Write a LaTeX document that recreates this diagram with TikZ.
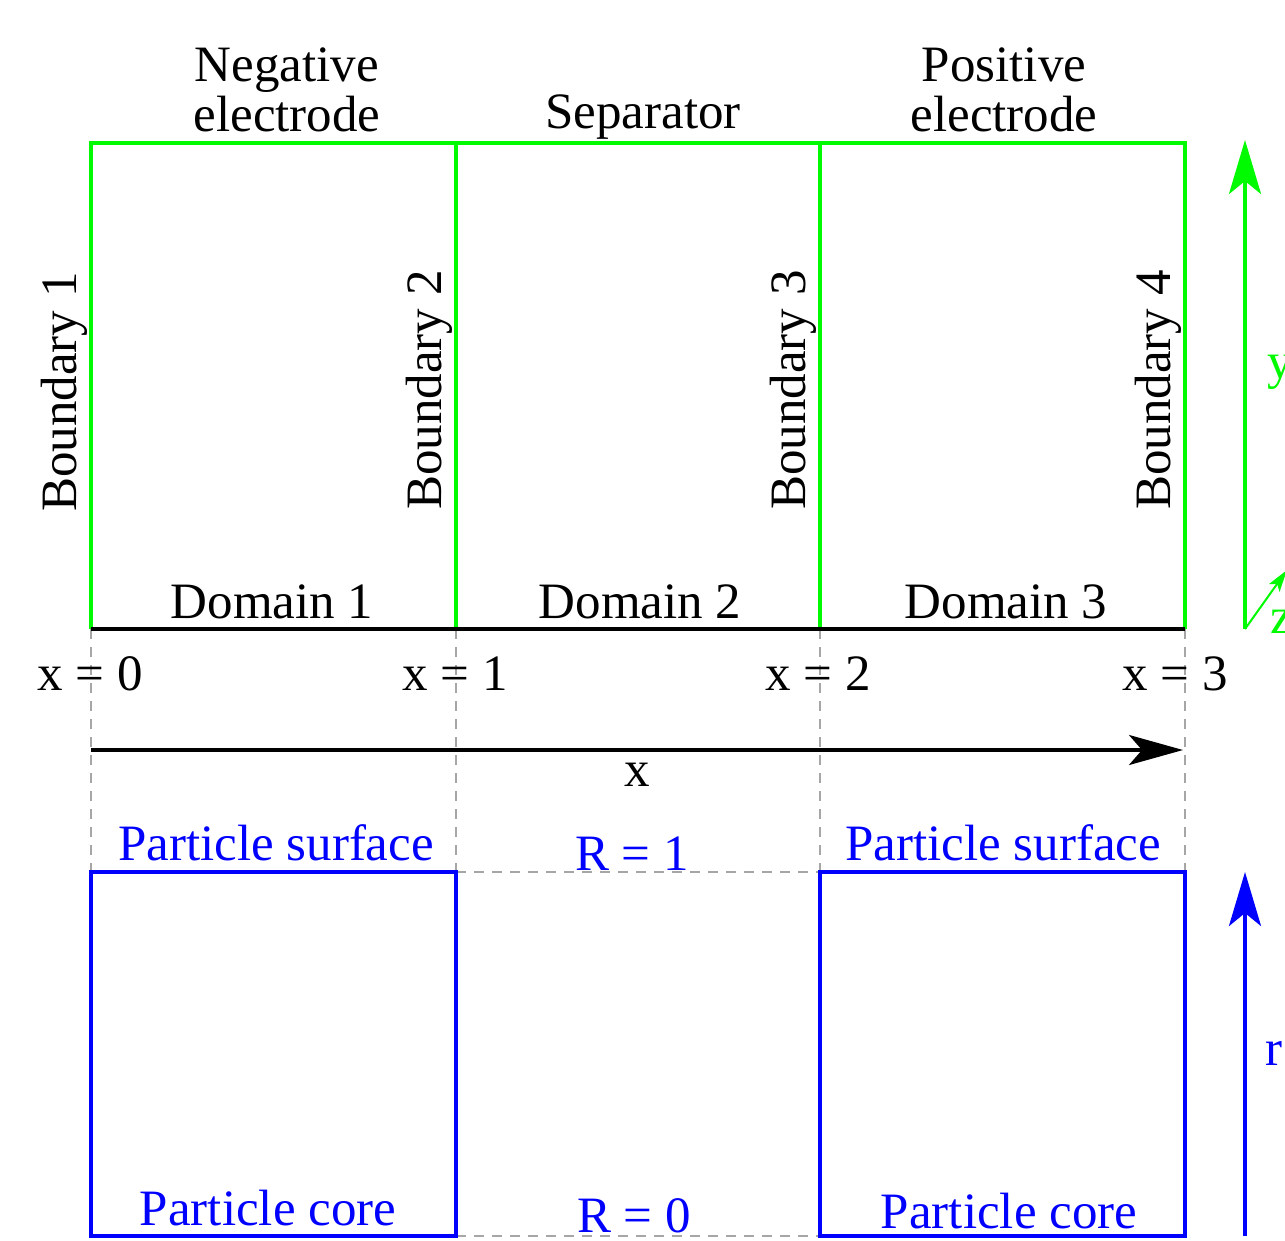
\documentclass[tikz,border=0pt]{standalone}
\usepackage{fontspec}
\setmainfont{Liberation Serif}
\usetikzlibrary{arrows.meta}
\definecolor{cellgreen}{RGB}{0,250,0}
\definecolor{partblue}{RGB}{0,0,255}
\tikzset{
  lbl/.style={font=\fontsize{51}{50}\selectfont, inner sep=1pt},
  cell/.style={cellgreen, line width=3.5pt},
  particle/.style={partblue, line width=3.5pt},
  guide/.style={black!35, line width=1.5pt, dash pattern=on 10pt off 8pt},
  axistip/.style={-{Stealth[length=54pt,width=32pt,inset=13pt]}},
}
\begin{document}
\begin{tikzpicture}[x=1pt,y=-1pt]
	\useasboundingbox (0,0) rectangle (1285,1240);

	% interfaces x = 0..3
	\coordinate (t0) at (91,143);  \coordinate (t1) at (456,143);
	\coordinate (t2) at (820,143); \coordinate (t3) at (1185,143);
	\coordinate (b0) at (91,629);  \coordinate (b1) at (456,629);
	\coordinate (b2) at (820,629); \coordinate (b3) at (1185,629);
	\coordinate (p0) at (91,872);  \coordinate (p1) at (456,872);
	\coordinate (p2) at (820,872); \coordinate (p3) at (1185,872);
	\coordinate (q0) at (91,1236);  \coordinate (q1) at (456,1236);
	\coordinate (q2) at (820,1236); \coordinate (q3) at (1185,1236);

	\draw[guide] (b0) -- (p0);
	\draw[guide] (b1) -- (p1);
	\draw[guide] (b2) -- (p2);
	\draw[guide] (b3) -- (p3);
	\draw[guide] (p1) -- (p2);
	\draw[guide] (q1) -- (q2);

	\draw[cell] (b0) -- (t0) -- (t3) -- (b3);
	\draw[cell] (t1) -- (b1);
	\draw[cell] (t2) -- (b2);
	\draw[line width=3.5pt] (b0) -- (b3);

	\draw[particle] (p0) rectangle (q1);
	\draw[particle] (p2) rectangle (q3);

	\node[lbl, align=center] (neg) at (287,90) {Negative\\electrode};
	\node[lbl] (sep) at (643,117) {Separator};
	\node[lbl, align=center] (pos) at (1004,90) {Positive\\electrode};

	\node[lbl, rotate=90, anchor=south] (bd1) at (89,392) {Boundary 1};
	\node[lbl, rotate=90, anchor=south] (bd2) at (454,390) {Boundary 2};
	\node[lbl, rotate=90, anchor=south] (bd3) at (818,390) {Boundary 3};
	\node[lbl, rotate=90, anchor=south] (bd4) at (1183,390) {Boundary 4};

	\node[lbl, anchor=base] (dom1) at (272,618) {Domain 1};
	\node[lbl, anchor=base] (dom2) at (640,618) {Domain 2};
	\node[lbl, anchor=base] (dom3) at (1006,618) {Domain 3};

	\node[lbl, anchor=base] (x0) at (90,690) {x = 0};
	\node[lbl, anchor=base] (x1) at (455,690) {x = 1};
	\node[lbl, anchor=base] (x2) at (818,690) {x = 2};
	\node[lbl, anchor=base] (x3) at (1175,690) {x = 3};

	\coordinate (xo) at (91,750);
	\coordinate (xe) at (1183,750);
	\draw[line width=3.5pt, -{Stealth[length=54pt,width=30pt,inset=13pt]}] (xo) -- (xe);
	\node[lbl] (xlab) at (637,775) {x};

	\node[lbl, anchor=base, partblue] (surf1) at (276,860) {Particle surface};
	\node[lbl, anchor=base, partblue] (surf2) at (1003,860) {Particle surface};
	\node[lbl, anchor=base, partblue] (rone) at (632,870) {R = 1};
	\node[lbl, anchor=base, partblue] (core1) at (268,1225) {Particle core};
	\node[lbl, anchor=base, partblue] (core2) at (1009,1228) {Particle core};
	\node[lbl, anchor=base, partblue] (rzero) at (634,1232) {R = 0};

	% axes on the right
	\coordinate (yo) at (1245,629);
	\coordinate (ytip) at (1245,140);
	\coordinate (ztip) at (1287,570);
	\draw[cell, axistip] (yo) -- (ytip);
	\draw[cellgreen, line width=2pt, -{Stealth[length=22pt,width=13pt,inset=5pt]}] (yo) -- (ztip);
	\node[lbl, cellgreen] (ylab) at (1280,372) {y};
	\node[lbl, cellgreen] (zlab) at (1282,622) {z};

	\coordinate (ro) at (1245,1236);
	\coordinate (rtip) at (1245,872);
	\draw[particle, axistip] (ro) -- (rtip);
	\node[lbl, partblue] (rlab) at (1274,1053) {r};
\end{tikzpicture}
\end{document}
